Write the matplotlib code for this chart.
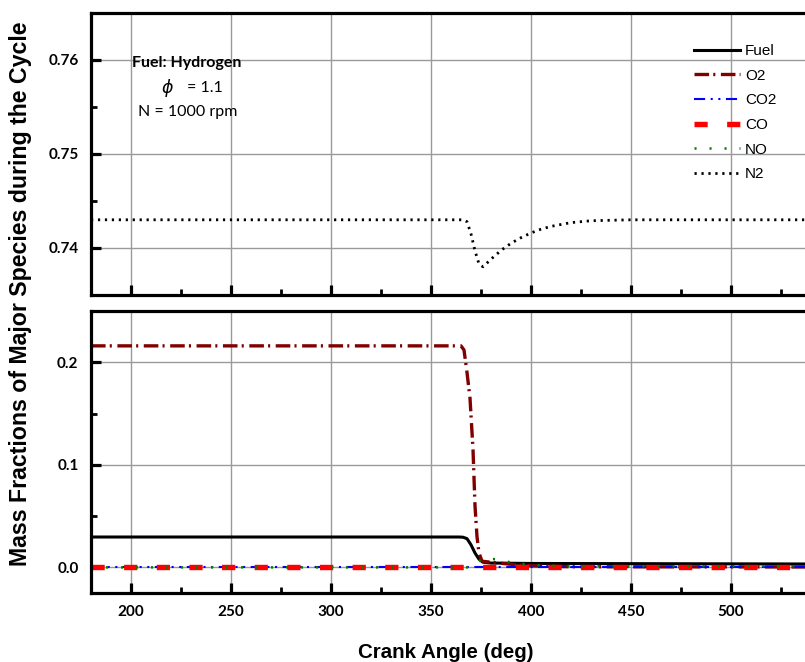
import matplotlib
matplotlib.use("Agg")
import matplotlib.pyplot as plt

# Kurbelwinkel / Massenanteile
n2_ca = [180, 366, 368, 370, 372, 374, 376, 378, 382, 386, 390, 395, 400, 405, 410, 420, 430, 450, 537]
n2_y = [0.743, 0.743, 0.7428, 0.7415, 0.7397, 0.7383, 0.7380, 0.7384, 0.7392, 0.7399,
        0.7405, 0.7411, 0.7416, 0.7420, 0.7423, 0.7427, 0.7429, 0.7430, 0.7430]

fuel_ca = [180, 364, 366, 368, 370, 372, 374, 376, 380, 400, 537]
fuel_y = [0.0296, 0.0296, 0.0294, 0.028, 0.022, 0.014, 0.008, 0.005, 0.0042, 0.0038, 0.0033]

o2_ca = [180, 365, 366.5, 368, 369.5, 371, 372, 373, 374, 375.5, 380, 390, 400, 420, 537]
o2_y = [0.216, 0.216, 0.212, 0.19, 0.165, 0.115, 0.06, 0.03, 0.014, 0.006, 0.005, 0.003,
        0.0015, 0.0006, 0.0004]

co2_ca = [180, 537]
co2_y = [0.0, 0.0]

co_ca = [180, 537]
co_y = [0.0, 0.0]

no_ca = [180, 370, 373, 376.5, 383, 389.5, 395, 405, 420, 537]
no_y = [0.0, 0.0, 0.005, 0.009, 0.0078, 0.005, 0.0035, 0.002, 0.0012, 0.001]

top_yticks = [0.74, 0.75, 0.76]
bot_yticks = [0.0, 0.1, 0.2]
xticks = [200, 250, 300, 350, 400, 450, 500]

plt.rcParams["lines.scale_dashes"] = False
tick_font = "Lato"

fig = plt.figure(figsize=(8.05, 6.62), dpi=100)
ax_top = fig.add_axes([91 / 805, 1 - 295 / 662, 714 / 805, 282 / 662])
ax_bot = fig.add_axes([91 / 805, 1 - 593 / 662, 714 / 805, 282 / 662])


def style_axis(ax, ylim, yticks, yminor, ylabels):
    ax.set_xlim(180, 537)
    ax.set_ylim(*ylim)
    ax.set_xticks(xticks)
    ax.set_xticks(range(225, 537, 50), minor=True)
    ax.set_yticks(yticks)
    ax.set_yticks(yminor, minor=True)
    ax.set_yticklabels(ylabels, fontfamily=tick_font, fontweight="bold", fontsize=11)
    ax.grid(True, which="major", color="#9a9a9a", linewidth=1.0)
    ax.set_axisbelow(True)
    for side in ["left", "top", "bottom"]:
        ax.spines[side].set_linewidth(2.3)
    ax.spines["right"].set_visible(False)
    ax.tick_params(which="major", direction="in", length=7, width=2.3, pad=9)
    ax.tick_params(which="minor", direction="in", length=4, width=2.0)
    ax.tick_params(top=False, right=False, which="both")


style_axis(ax_top, (0.735, 0.765), top_yticks, [0.735, 0.745, 0.755],
           ["0.74", "0.75", "0.76"])
style_axis(ax_bot, (-0.025, 0.25), bot_yticks, [0.05, 0.15], ["0.0", "0.1", "0.2"])
ax_top.tick_params(labelbottom=False)
ax_bot.set_xticklabels([str(v) for v in xticks], fontfamily=tick_font,
                       fontweight="bold", fontsize=11)

styles = dict(
    fuel=dict(color="black", lw=2.2, ls="-"),
    o2=dict(color="#800000", lw=2.4, ls=(0, (10.5, 3, 1.5, 4))),
    co2=dict(color="#0000ff", lw=1.5, ls=(0, (8, 4, 1.5, 4, 1.5, 4))),
    co=dict(color="#ff0000", lw=3.9, ls=(0, (9.5, 14))),
    no=dict(color="#008000", lw=1.8, ls=(0, (1.5, 9.3))),
    n2=dict(color="black", lw=2.0, ls=(0, (1.6, 3.4))),
)

for ax in (ax_top, ax_bot):
    ax.plot(fuel_ca, fuel_y, label="Fuel", **styles["fuel"])
    ax.plot(o2_ca, o2_y, label="O2", **styles["o2"])
    ax.plot(co2_ca, co2_y, label="CO2", **styles["co2"])
    ax.plot(co_ca, co_y, label="CO", **styles["co"])
    ax.plot(no_ca, no_y, label="NO", **styles["no"])
    ax.plot(n2_ca, n2_y, label="N2", **styles["n2"])

leg = ax_top.legend(loc="upper left", bbox_to_anchor=(0.8445, 0.89), frameon=False,
                    prop=dict(family="Liberation Sans", size=11), handlelength=3.0,
                    handletextpad=0.35, labelspacing=0.7, borderpad=0, borderaxespad=0)

# Anmerkung links oben
fig.text(187 / 805, 1 - 63 / 662, "Fuel: Hydrogen", ha="center", va="center",
         fontfamily="Lato", fontweight="bold", fontsize=11.5)
fig.text(167 / 805, 1 - 88 / 662, r"$\phi$", ha="center", va="center", fontsize=12.5)
fig.text(205 / 805, 1 - 88 / 662, "= 1.1", ha="center", va="center",
         fontfamily="Lato", fontsize=11.5)
fig.text(188 / 805, 1 - 112 / 662, "N = 1000 rpm", ha="center", va="center",
         fontfamily="Lato", fontsize=11.5)

fig.text(21 / 805, 1 - 294 / 662, "Mass Fractions of Major Species during the Cycle",
         rotation=90, ha="center", va="center", fontfamily="Liberation Sans",
         fontweight="bold", fontsize=16.7)
fig.text(446 / 805, 1 - 652 / 662, "Crank Angle (deg)", ha="center", va="center",
         fontfamily="Liberation Sans", fontweight="bold", fontsize=14.8)

fig.savefig("out.png", dpi=100)
